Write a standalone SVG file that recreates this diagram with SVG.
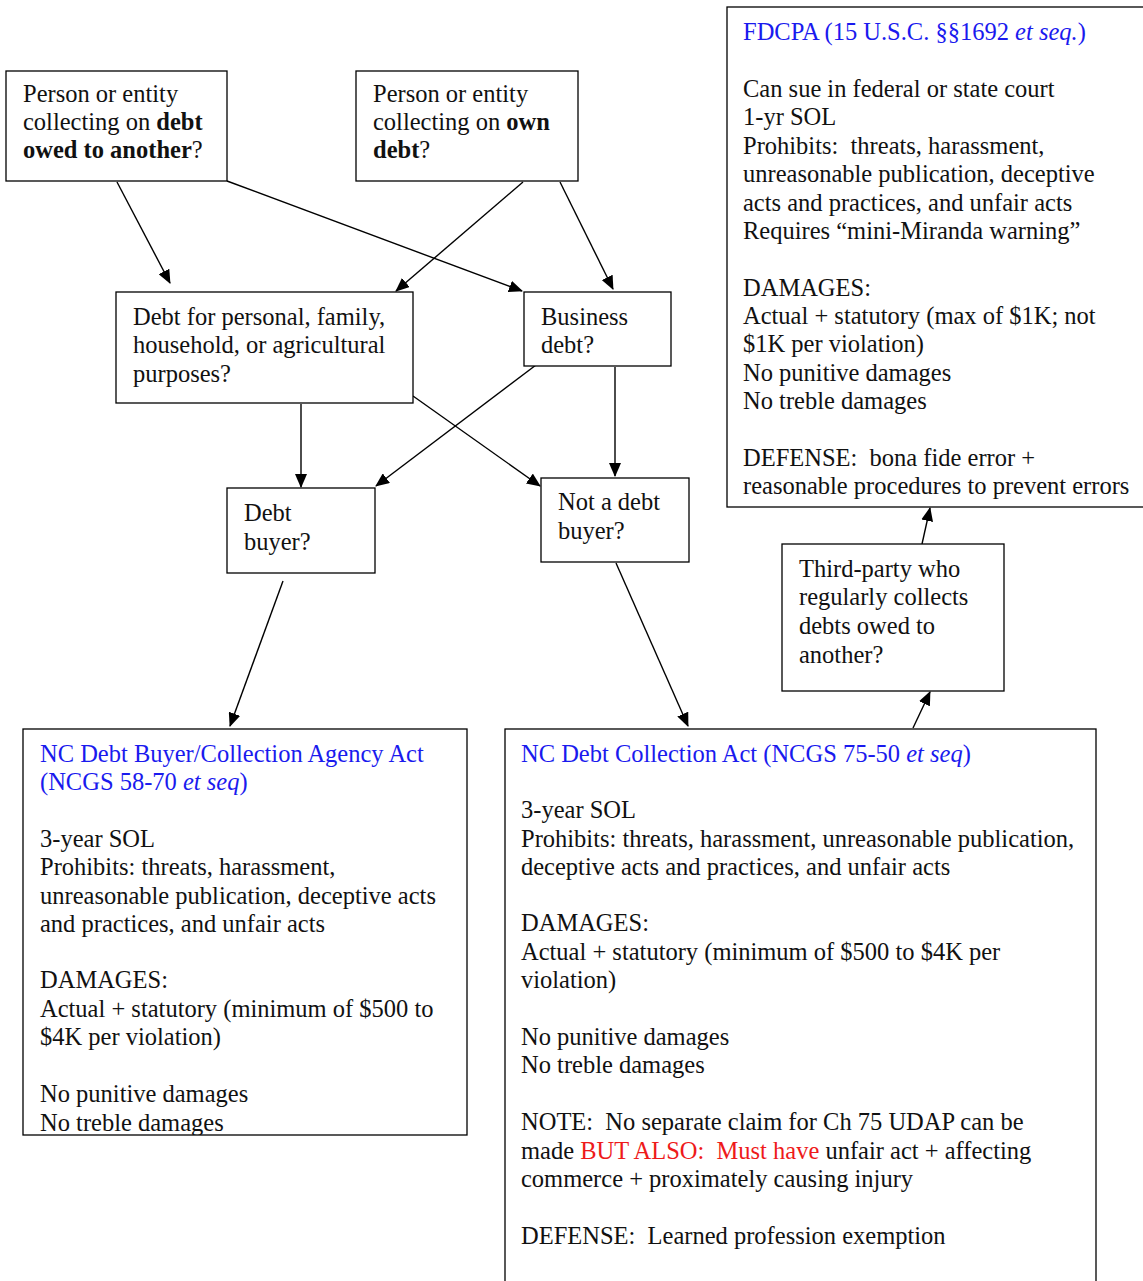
<svg xmlns="http://www.w3.org/2000/svg" width="1143" height="1281" viewBox="0 0 1143 1281" xml:space="preserve">
<style>
.box{fill:#fff;stroke:#000;stroke-width:1.3}
text{font-family:"Liberation Serif","Times New Roman",serif;font-size:24.5px;fill:#111;white-space:pre;transform:translate(1px,1.5px)}
.b{font-weight:bold}
.blue{fill:#1a1aee}
.red{fill:#ee1a1a}
.it{font-style:italic}
.c{stroke:#000;stroke-width:1.4;fill:none;marker-end:url(#ah)}
</style>
<defs>
<marker id="ah" markerUnits="userSpaceOnUse" markerWidth="14" markerHeight="12" refX="13" refY="6" orient="auto">
<path d="M0,0 L14,6 L0,12 Z" fill="#000"/>
</marker>
<clipPath id="clipA"><rect x="23" y="729" width="444" height="406"/></clipPath>
</defs>
<rect width="1143" height="1281" fill="#fff"/>
<g id="connectors">
<line class="c" x1="117" y1="182" x2="170" y2="283"/>
<line class="c" x1="227" y1="181" x2="522" y2="291"/>
<line class="c" x1="523" y1="182" x2="396" y2="291"/>
<line class="c" x1="560" y1="182" x2="613" y2="289"/>
<line class="c" x1="301" y1="404" x2="301" y2="487"/>
<line class="c" x1="540" y1="362" x2="376" y2="486"/>
<line class="c" x1="413" y1="396" x2="540" y2="486"/>
<line class="c" x1="615" y1="367" x2="615" y2="476"/>
<line class="c" x1="283" y1="581" x2="230" y2="726"/>
<line class="c" x1="616" y1="563" x2="688" y2="726"/>
<line class="c" x1="913" y1="728" x2="930" y2="692"/>
<line class="c" x1="922" y1="544" x2="930" y2="508"/>
</g>
<g id="n1">
<rect class="box" x="6" y="71" width="221" height="110"/>
<text x="22" y="100">Person or entity</text>
<text x="22" y="128">collecting on <tspan class="b">debt</tspan></text>
<text x="22" y="156"><tspan class="b">owed to another</tspan>?</text>
</g>
<g id="n2">
<rect class="box" x="356" y="71" width="222" height="110"/>
<text x="372" y="100">Person or entity</text>
<text x="372" y="128">collecting on <tspan class="b">own</tspan></text>
<text x="372" y="156"><tspan class="b">debt</tspan>?</text>
</g>
<g id="fdcpa">
<rect class="box" x="727" y="7" width="420" height="500"/>
<text x="742" y="38" class="blue">FDCPA (15 U.S.C. §§1692 <tspan class="it">et seq.</tspan>)</text>
<text x="742" y="95">Can sue in federal or state court</text>
<text x="742" y="123">1-yr SOL</text>
<text x="742" y="152">Prohibits:  threats, harassment,</text>
<text x="742" y="180">unreasonable publication, deceptive</text>
<text x="742" y="209">acts and practices, and unfair acts</text>
<text x="742" y="237">Requires “mini-Miranda warning”</text>
<text x="742" y="294">DAMAGES:</text>
<text x="742" y="322">Actual + statutory (max of $1K; not</text>
<text x="742" y="350">$1K per violation)</text>
<text x="742" y="379">No punitive damages</text>
<text x="742" y="407">No treble damages</text>
<text x="742" y="464">DEFENSE:  bona fide error +</text>
<text x="742" y="492">reasonable procedures to prevent errors</text>
</g>
<g id="n3">
<rect class="box" x="116" y="292" width="297" height="111"/>
<text x="132" y="323">Debt for personal, family,</text>
<text x="132" y="351">household, or agricultural</text>
<text x="132" y="380">purposes?</text>
</g>
<g id="n4">
<rect class="box" x="524" y="292" width="147" height="74"/>
<text x="540" y="323">Business</text>
<text x="540" y="351">debt?</text>
</g>
<g id="n5">
<rect class="box" x="227" y="488" width="148" height="85"/>
<text x="243" y="519">Debt</text>
<text x="243" y="548">buyer?</text>
</g>
<g id="n6">
<rect class="box" x="541" y="478" width="148" height="84"/>
<text x="557" y="508">Not a debt</text>
<text x="557" y="537">buyer?</text>
</g>
<g id="n7">
<rect class="box" x="782" y="544" width="222" height="147"/>
<text x="798" y="575">Third-party who</text>
<text x="798" y="603">regularly collects</text>
<text x="798" y="632">debts owed to</text>
<text x="798" y="661">another?</text>
</g>
<g id="n8">
<rect class="box" x="23" y="729" width="444" height="406"/>
<g clip-path="url(#clipA)">
<text x="39" y="760" class="blue">NC Debt Buyer/Collection Agency Act</text>
<text x="39" y="788" class="blue">(NCGS 58-70 <tspan class="it">et seq</tspan>)</text>
<text x="39" y="845">3-year SOL</text>
<text x="39" y="873">Prohibits: threats, harassment,</text>
<text x="39" y="902">unreasonable publication, deceptive acts</text>
<text x="39" y="930">and practices, and unfair acts</text>
<text x="39" y="986">DAMAGES:</text>
<text x="39" y="1015">Actual + statutory (minimum of $500 to</text>
<text x="39" y="1043">$4K per violation)</text>
<text x="39" y="1100">No punitive damages</text>
<text x="39" y="1129">No treble damages</text>
</g>
</g>
<g id="n9">
<rect class="box" x="505" y="729" width="591" height="570"/>
<text x="520" y="760" class="blue">NC Debt Collection Act (NCGS 75-50 <tspan class="it">et seq</tspan>)</text>
<text x="520" y="816">3-year SOL</text>
<text x="520" y="845">Prohibits: threats, harassment, unreasonable publication,</text>
<text x="520" y="873">deceptive acts and practices, and unfair acts</text>
<text x="520" y="929">DAMAGES:</text>
<text x="520" y="958">Actual + statutory (minimum of $500 to $4K per</text>
<text x="520" y="986">violation)</text>
<text x="520" y="1043">No punitive damages</text>
<text x="520" y="1071">No treble damages</text>
<text x="520" y="1128">NOTE:  No separate claim for Ch 75 UDAP can be</text>
<text x="520" y="1157">made <tspan class="red">BUT ALSO:  Must have</tspan> unfair act + affecting</text>
<text x="520" y="1185">commerce + proximately causing injury</text>
<text x="520" y="1242">DEFENSE:  Learned profession exemption</text>
</g>
</svg>
